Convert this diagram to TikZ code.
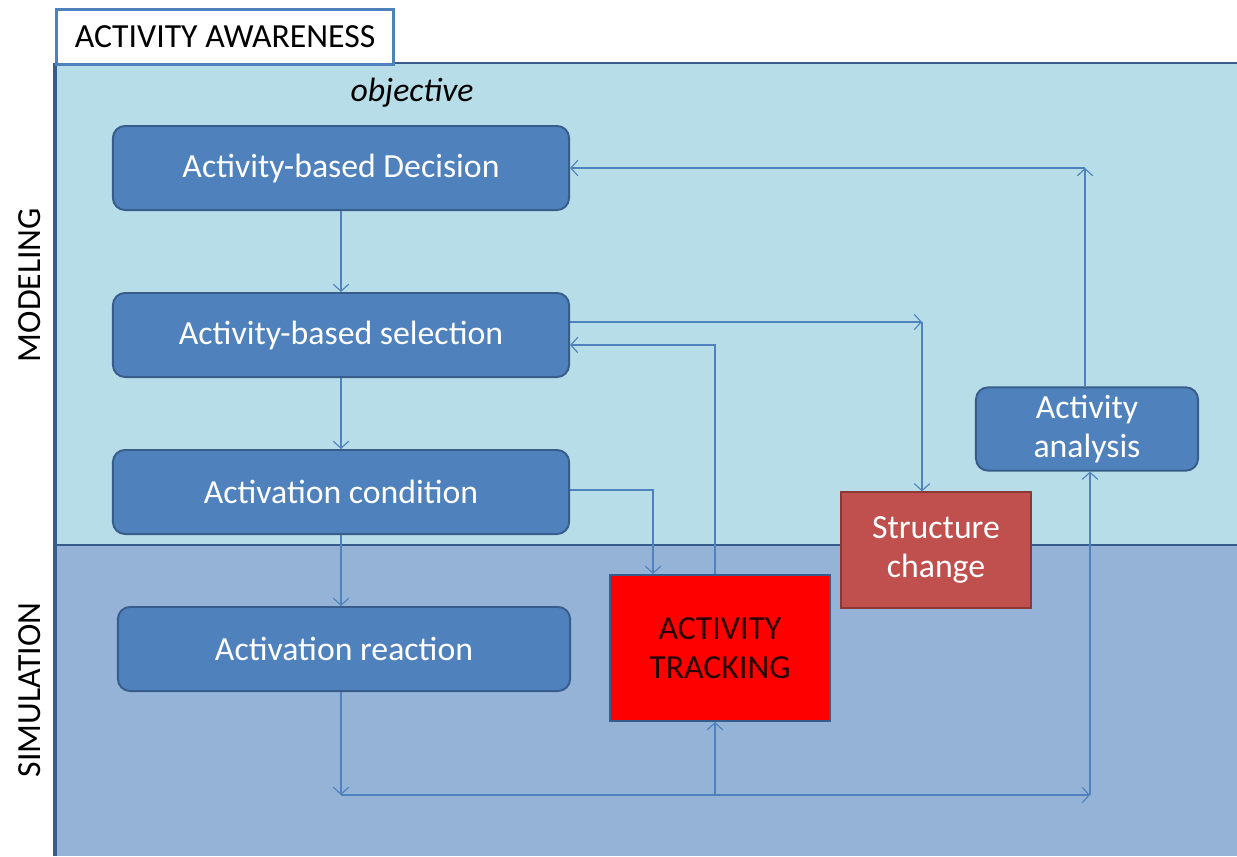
\documentclass[tikz,border=0pt]{standalone}
\usepackage{fontspec}
\setmainfont{Carlito}
\usetikzlibrary{positioning,arrows.meta}
\definecolor{lanetop}{HTML}{B7DEE8}
\definecolor{lanebottom}{HTML}{95B3D7}
\definecolor{laneedge}{HTML}{385D8A}
\definecolor{boxblue}{HTML}{4F81BD}
\definecolor{boxedge}{HTML}{385D8A}
\definecolor{flowblue}{HTML}{4F81BD}
\definecolor{changered}{HTML}{C0504D}
\definecolor{changeedge}{HTML}{8C3836}
\definecolor{trackred}{HTML}{FF0000}
\definecolor{tracktext}{HTML}{2A0000}

\begin{document}
\begin{tikzpicture}[x=0.025cm, y=-0.025cm,
        stage/.style={rectangle, rounded corners=0.3cm, draw=boxedge, fill=boxblue, line width=1.4pt,
            text=white, minimum width=11.4cm, minimum height=2.1cm, font=\fontsize{24}{28}\selectfont},
        redbox/.style={rectangle, line width=1.4pt, align=center, font=\fontsize{24}{28}\selectfont},
        lane/.style={font=\fontsize{24}{28}\selectfont, rotate=90},
        arrow/.style={-{Straight Barb[length=5pt,width=11pt]}, draw=flowblue, line width=0.8pt}
    ]
        \useasboundingbox (0,0) rectangle (1237,856);

        % lanes
        \fill[lanetop] (55,63) rectangle (1237,545);
        \fill[lanebottom] (55,545) rectangle (1237,856);
        \draw[laneedge, line width=2pt] (55,63) -- (1237,63);
        \draw[laneedge, line width=2pt] (55,545) -- (1237,545);
        \draw[laneedge, line width=2.4pt] (55,63) -- (55,856);
        \node[rectangle, draw=boxblue, fill=white, line width=2pt, minimum width=8.43cm, minimum height=1.38cm,
            anchor=north west, font=\fontsize{24}{28}\selectfont] (title) at (55,8) {ACTIVITY AWARENESS\hspace{0.25cm}};

        \node[lane] (modeling) at (30,285) {MODELING};
        \node[lane] (simulation) at (30,690) {SIMULATION};
        \node[font=\fontsize{24}{28}\selectfont\itshape] (objective) at (412,93) {objective};

        % boxes
        \node[stage] (decision) at (341,168) {Activity-based Decision};
        \node[stage] (selection) at (341,335) {Activity-based selection};
        \node[stage] (condition) at (341,492) {Activation condition};
        \node[stage, minimum width=11.3cm] (reaction) at (344,649) {Activation reaction};
        \node[stage, minimum width=5.55cm, minimum height=2.08cm, align=center] (analysis) at (1087,429) {Activity\\analysis};
        \node[redbox, draw=changeedge, fill=changered, text=white, minimum width=4.73cm, minimum height=2.88cm] (change) at (936,550) {Structure\\change};
        \node[redbox, draw=boxedge, fill=trackred, text=tracktext, minimum width=5.5cm, minimum height=3.65cm] (tracking) at (720,648) {ACTIVITY\\TRACKING};

        % junctions
        \coordinate (topright) at (1085,168);
        \coordinate (selout) at (922,322);
        \coordinate (trackup) at (715,345);
        \coordinate (condout) at (653,490);
        \coordinate (botleft) at (341,795);
        \coordinate (botmid) at (715,795);
        \coordinate (botright) at (1090,795);

        \draw[arrow] (decision) -- (selection);
        \draw[arrow] (selection) -- (condition);
        \draw[arrow] (condition) -- (condition |- reaction.north);
        \draw[arrow] (selection.east |- selout) -- (selout);
        \draw[arrow] (selout) -- (change.north -| selout);
        \draw[arrow] (tracking.north -| trackup) -- (trackup) -- (selection.east |- trackup);
        \draw[arrow] (condition.east |- condout) -- (condout) -- (tracking.north -| condout);
        \draw[arrow] (reaction.south -| botleft) -- (botleft);
        \draw[arrow] (botleft) -- (botright);
        \draw[arrow] (botmid) -- (tracking.south -| botmid);
        \draw[arrow] (botright) -- (analysis.south -| botright);
        \draw[arrow] (analysis.north -| topright) -- (topright);
        \draw[arrow] (topright) -- (decision.east |- topright);
    \end{tikzpicture}
\end{document}
